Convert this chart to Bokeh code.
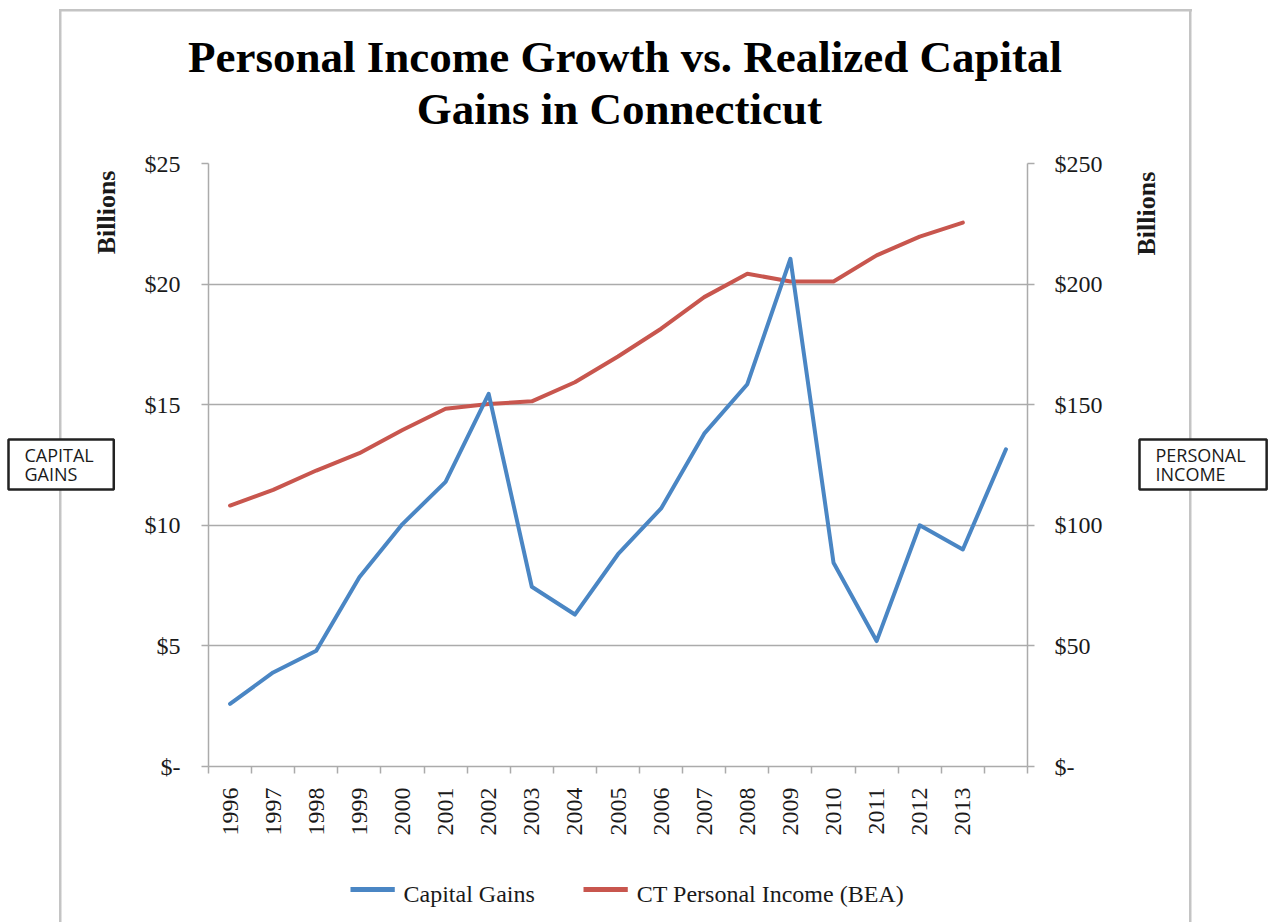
from math import pi
from bokeh.plotting import figure
from bokeh.models import (Range1d, LinearAxis, FixedTicker, Label, Grid)
from bokeh.embed import file_html
from bokeh.resources import INLINE

# ---------------- data ----------------
years = [1996, 1997, 1998, 1999, 2000, 2001, 2002, 2003, 2004, 2005,
         2006, 2007, 2008, 2009, 2010, 2011, 2012, 2013, 2014]
capital_gains = [2.6, 3.9, 4.8, 7.85, 10.05, 11.8, 15.45, 7.45, 6.3, 8.8,
                 10.7, 13.8, 15.85, 21.05, 8.45, 5.2, 10.0, 9.0, 13.15]
income_years = [1996, 1997, 1998, 1999, 2000, 2001, 2002, 2003, 2004,
                2005, 2006, 2007, 2008, 2009, 2010, 2011, 2012, 2013]
personal_income = [108.2, 114.7, 122.7, 129.9, 139.5, 148.3, 150.3, 151.4,
                   159.3, 170.0, 181.5, 194.6, 204.3, 201.1, 201.1, 211.9,
                   219.7, 225.5]
year_labels = ["1996", "1997", "1998", "1999", "2000", "2001", "2002",
               "2003", "2004", "2005", "2006", "2007", "2008", "2009",
               "2010", "2011", "2012", "2013"]
left_ticks = [0, 5, 10, 15, 20, 25]
left_tick_labels = ["$-", "$5", "$10", "$15", "$20", "$25"]
right_ticks = [0, 50, 100, 150, 200, 250]
right_tick_labels = ["$-", "$50", "$100", "$150", "$200", "$250"]
title_text = "Personal Income Growth vs. Realized Capital\nGains  in Connecticut"
series_names = ["Capital Gains", "CT Personal Income (BEA)"]
unit_text = "Billions"
box_texts = ["CAPITAL\nGAINS", "PERSONAL\nINCOME"]

# ---------------- style ----------------
BLUE = "#4A86C4"
RED = "#C8564E"
GREY = "#ABABAB"
BORDER = "#C4C4C4"
TXT = "#1a1a1a"
SERIF = "Liberation Serif"
SANS = "Open Sans"
FS = "24px"

W, H = 1270, 922
X0, X1 = 1995.5, 2014.5
Y1 = 25
FL, FR, FT, FB = 208, 1027, 163, 766   # frame edges in page pixels


def dx(px):
    """page x pixel -> data x (for placing annotations outside the frame)"""
    return X0 + (px - FL) * (X1 - X0) / (FR - FL)


def dy(py):
    """page y pixel -> data y on the left axis scale"""
    return (FB - py) * Y1 / (FB - FT)


p = figure(width=W, height=H, output_backend="svg", toolbar_location=None,
           x_range=Range1d(X0, X1), y_range=Range1d(0, Y1),
           x_axis_type=None, y_axis_type=None,
           min_border_left=FL, min_border_right=W - FR,
           min_border_top=FT, min_border_bottom=H - FB)
p.outline_line_color = None
p.background_fill_color = "white"
p.border_fill_color = None
# outer grey frame of the chart area, painted behind the (transparent) border
grad = f"linear-gradient({BORDER}, {BORDER})"
p.styles = {
    "background-color": "white",
    "background-image": ", ".join([grad] * 3),
    "background-repeat": "no-repeat",
    "background-size": "1133px 2.5px, 2.5px 940px, 2.5px 940px",
    "background-position": "59px 9px, 59px 9px, 1189px 9px",
}
p.extra_y_ranges = {"right": Range1d(0, 250)}

# grid
p.add_layout(Grid(dimension=1, ticker=FixedTicker(ticks=left_ticks),
                  grid_line_color=GREY, grid_line_width=1.5))

# x axis (tick marks between categories, labels centred)
bounds = [y - 0.5 for y in years] + [years[-1] + 0.5]
xaxis = LinearAxis(ticker=FixedTicker(ticks=income_years, minor_ticks=bounds),
                   major_label_overrides={y: l for y, l in zip(income_years, year_labels)},
                   major_label_orientation=pi / 2,
                   major_tick_out=0, major_tick_in=0,
                   minor_tick_out=7, minor_tick_in=0,
                   minor_tick_line_color=GREY, minor_tick_line_width=1.5,
                   axis_line_color=GREY, axis_line_width=1.5,
                   major_label_standoff=14,
                   major_label_text_font=SERIF, major_label_text_font_size=FS,
                   major_label_text_color=TXT)
p.add_layout(xaxis, "below")

common_y = dict(major_tick_out=7, major_tick_in=0, minor_tick_out=0, minor_tick_in=0,
                major_tick_line_color=GREY, major_tick_line_width=1.5,
                axis_line_color=GREY, axis_line_width=1.5,
                major_label_text_font=SERIF, major_label_text_font_size=FS,
                major_label_text_color=TXT)
yleft = LinearAxis(ticker=FixedTicker(ticks=left_ticks),
                   major_label_overrides={t: l for t, l in zip(left_ticks, left_tick_labels)},
                   major_label_standoff=21, **common_y)
p.add_layout(yleft, "left")
yright = LinearAxis(y_range_name="right", ticker=FixedTicker(ticks=right_ticks),
                    major_label_overrides={t: l for t, l in zip(right_ticks, right_tick_labels)},
                    major_label_standoff=20, **common_y)
p.add_layout(yright, "right")

# "Billions" unit notes (bare axes carrying one rotated label each)
for side, anchor_py, standoff in [("left", 170, 35), ("right", 255, 41)]:
    uy = dy(anchor_py)
    p.add_layout(LinearAxis(ticker=FixedTicker(ticks=[uy]),
                            major_label_overrides={uy: unit_text},
                            major_label_orientation=pi / 2,
                            axis_line_color=None, major_tick_line_color=None,
                            minor_tick_line_color=None, major_tick_out=0,
                            minor_tick_out=0, major_label_standoff=standoff,
                            major_label_text_font=SERIF,
                            major_label_text_font_style="bold",
                            major_label_text_font_size="26px",
                            major_label_text_color=TXT), side)

# lines
r_pi = p.line(income_years, personal_income, y_range_name="right",
              line_color=RED, line_width=4, line_join="round", line_cap="round")
r_cg = p.line(years, capital_gains, line_color=BLUE, line_width=4,
              line_join="round", line_cap="round")

# title
p.add_layout(Label(x=dx(624.5), y=dy(31), text=title_text,
                   text_align="center", text_baseline="top",
                   text_font=SERIF, text_font_style="bold",
                   text_font_size="45px", text_line_height=1.04,
                   text_color="black"), "above")

# side boxes
box_style = dict(text_align="left", text_baseline="top", text_font=SANS,
                 text_font_size="18px", text_line_height=0.83, text_color=TXT,
                 background_fill_color="white", border_line_color="#222222",
                 border_line_width=2.5)
p.add_layout(Label(x=dx(8), y=dy(439), text=box_texts[0],
                   padding=dict(left=16, right=20, top=3, bottom=3), **box_style), "above")
p.add_layout(Label(x=dx(1139), y=dy(439), text=box_texts[1],
                   padding=dict(left=16, right=21, top=3, bottom=3), **box_style), "below")

# legend (text + line samples)
gap = "\u00a0" * 17
p.add_layout(Label(x=dx(403), y=dy(893), text=series_names[0] + gap + series_names[1],
                   text_align="left", text_baseline="alphabetic",
                   text_font=SERIF, text_font_size=FS, text_color=TXT), "below")
for color, x_left in [(BLUE, 350), (RED, 583)]:
    p.add_layout(Label(x=dx(x_left), y=dy(889), text=" ", text_font_size="1px",
                       text_align="left", text_baseline="middle",
                       background_fill_color=color,
                       padding=dict(left=22, right=22, top=2, bottom=2)), "right")

open("out.html", "w").write(file_html(p, INLINE))
